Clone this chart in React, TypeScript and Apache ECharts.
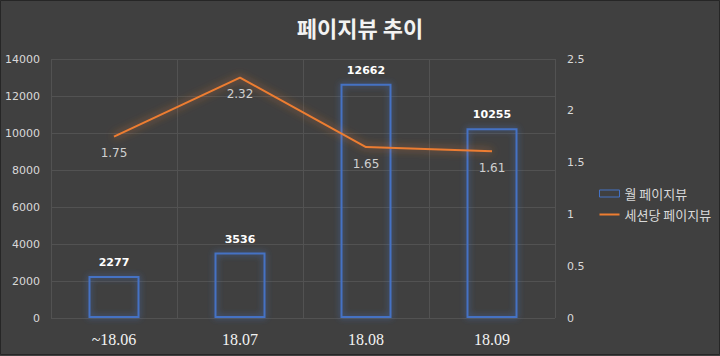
import React, { useEffect, useRef } from "react";
import * as echarts from "echarts";

const categories = ["~18.06", "18.07", "18.08", "18.09"];
const monthlyViews = [2277, 3536, 12662, 10255];
const viewsPerSession = [1.75, 2.32, 1.65, 1.61];
const barName = "월 페이지뷰";
const lineName = "세션당 페이지뷰";
const titleText = "페이지뷰 추이";

export default function App() {
  const ref = useRef<HTMLDivElement>(null);
  useEffect(() => {
    document.body.style.margin = "0";
    const chart = echarts.init(ref.current!, null, { renderer: "svg" });
    const font = "'Noto Sans CJK KR', 'Noto Sans', sans-serif";
    chart.setOption({
      animation: false,
      backgroundColor: "#404040",
      title: {
        text: titleText,
        left: "center",
        top: 11,
        textStyle: { color: "#f2f2f2", fontSize: 22, fontWeight: "bold", fontFamily: font },
      },
      graphic: [
        {
          type: "rect",
          shape: { x: 0.5, y: 0.5, width: 719, height: 354 },
          style: { fill: "none", stroke: "#262626", lineWidth: 1 },
          silent: true,
        },
      ],
      legend: {
        orient: "vertical",
        left: 594,
        top: 182,
        itemWidth: 20,
        itemHeight: 7,
        itemGap: 8,
        textStyle: { color: "#d9d9d9", fontSize: 13, fontFamily: font },
        data: [
          {
            name: barName,
            icon: "rect",
            itemStyle: { color: "rgba(0,0,0,0)", borderColor: "#4472C4", borderWidth: 1 },
          },
          {
            name: lineName,
            icon: "path://M0,0 L20,0 L20,2 L0,2 Z",
            itemStyle: { color: "#ED7D31", borderWidth: 0 },
          },
        ],
      },
      grid: { left: 51, right: 165, top: 59, bottom: 38 },
      xAxis: {
        type: "category",
        data: categories,
        boundaryGap: true,
        axisLine: { show: false },
        axisTick: { show: false },
        axisLabel: {
          color: "#f2f2f2",
          fontSize: 16,
          fontFamily: "'Liberation Serif', serif",
          margin: 13,
        },
        splitLine: { show: true, lineStyle: { color: "#525252", width: 1 } },
      },
      yAxis: [
        {
          type: "value",
          min: 0,
          max: 14000,
          interval: 2000,
          axisLine: { show: false },
          axisTick: { show: false },
          axisLabel: {
            color: "#d9d9d9",
            fontSize: 11,
            fontFamily: "'DejaVu Sans', sans-serif",
            margin: 11,
            formatter: (v: number) => String(v),
          },
          splitLine: { show: true, lineStyle: { color: "#525252", width: 1 } },
        },
        {
          type: "value",
          min: 0,
          max: 2.5,
          interval: 0.5,
          axisLine: { show: false },
          axisTick: { show: false },
          axisLabel: { color: "#d9d9d9", fontSize: 11, fontFamily: "'DejaVu Sans', sans-serif", margin: 12 },
          splitLine: { show: false },
        },
      ],
      series: [
        {
          name: barName,
          type: "bar",
          data: monthlyViews,
          barWidth: 51,
          yAxisIndex: 0,
          itemStyle: {
            color: "rgba(0,0,0,0)",
            borderColor: "#4472C4",
            borderWidth: 2,
            shadowBlur: 6,
            shadowColor: "rgba(68,114,196,0.8)",
          },
          label: {
            show: true,
            position: "top",
            distance: 8,
            color: "#ffffff",
            fontSize: 11,
            fontWeight: "bold",
            fontFamily: "'DejaVu Sans', sans-serif",
          },
        },
        {
          name: lineName,
          type: "line",
          data: viewsPerSession,
          yAxisIndex: 1,
          symbol: "circle",
          symbolSize: 1,
          showSymbol: true,
          lineStyle: {
            color: "#ED7D31",
            width: 2,
            shadowBlur: 8,
            shadowColor: "rgba(237,125,49,0.8)",
          },
          itemStyle: { color: "rgba(0,0,0,0)", borderWidth: 0 },
          label: {
            show: true,
            position: "bottom",
            distance: 10,
            color: "#d0d0d0",
            fontSize: 12,
            fontFamily: "'DejaVu Sans', sans-serif",
          },
        },
      ],
    });
    return () => chart.dispose();
  }, []);
  return (
    <div
      ref={ref}
      style={{ position: "fixed", left: 0, top: 0, width: 720, height: 356 }}
    />
  );
}
